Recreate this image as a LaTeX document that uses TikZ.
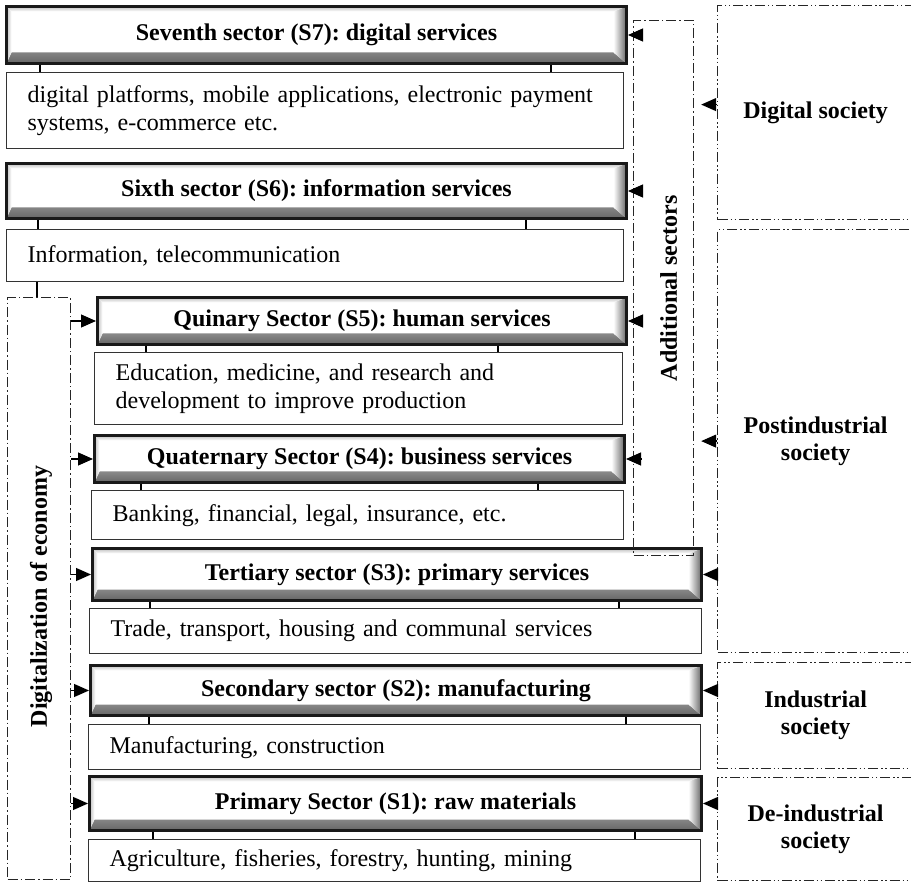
\documentclass[tikz,border=0pt]{standalone}
\usepackage{fontspec}
\setmainfont{Liberation Serif}
\usetikzlibrary{arrows.meta,positioning,calc}
\frenchspacing

\begin{document}
\begin{tikzpicture}[
  x=1pt,y=-1pt,
  hdr/.style={draw=black!90,line width=3pt,fill=white,anchor=north west,
    font=\bfseries\fontsize{24}{27}\selectfont,
    path picture={
      \shade[top color=white,bottom color=black!60]
        (path picture bounding box.south west) -- (path picture bounding box.south east)
        -- ([xshift=-13pt,yshift=11pt]path picture bounding box.south east)
        -- ([xshift=5pt,yshift=11pt]path picture bounding box.south west) -- cycle;
      \shade[left color=white,right color=black!60]
        (path picture bounding box.south east) -- (path picture bounding box.north east)
        -- ([xshift=-13pt,yshift=-5pt]path picture bounding box.north east)
        -- ([xshift=-13pt,yshift=11pt]path picture bounding box.south east) -- cycle;
      \shade[top color=black!25,bottom color=white]
        (path picture bounding box.north west) -- (path picture bounding box.north east)
        -- ([xshift=-13pt,yshift=-5pt]path picture bounding box.north east)
        -- ([xshift=5pt,yshift=-5pt]path picture bounding box.north west) -- cycle;
      \shade[left color=black!25,right color=white]
        (path picture bounding box.north west) -- ([xshift=5pt,yshift=-5pt]path picture bounding box.north west)
        -- ([xshift=5pt,yshift=11pt]path picture bounding box.south west)
        -- (path picture bounding box.south west) -- cycle;
    }},
  desc/.style={draw=black!80,line width=1.3pt,anchor=north west,align=left,
    inner xsep=21pt,font=\fontsize{24}{27.5}\selectfont},
  side/.style={draw=black!85,line width=1.2pt,anchor=north west,inner sep=0pt,
    dash pattern=on 10pt off 3pt on 1.5pt off 3pt},
  soc/.style={side,align=center,font=\bfseries\fontsize{24}{27}\selectfont,
    dash pattern=on 10pt off 3pt on 1.5pt off 2.5pt on 1.5pt off 3pt},
  vlabel/.style={rotate=90,font=\bfseries\fontsize{24}{27}\selectfont},
  link/.style={line width=1.5pt},
  arr/.style={-{Triangle[length=15pt,width=13pt]},line width=1.2pt}
]
\useasboundingbox (0,0) rectangle (911,882);
\clip (0,0) rectangle (911,882);

\node[hdr,minimum width=620pt,minimum height=57pt] (h7) at (5,5) {Seventh sector (S7): digital services};
\node[desc,text width=575pt,minimum height=76pt] (d7) at (6,72) {digital platforms, mobile applications, electronic payment\\systems, e-commerce etc.};
\node[hdr,minimum width=620pt,minimum height=55pt] (h6) at (5,162) {Sixth sector (S6): information services};
\node[desc,text width=575pt,minimum height=52pt] (d6) at (6,229) {Information, telecommunication};
\node[hdr,minimum width=529pt,minimum height=47pt] (h5) at (96,296) {Quinary Sector (S5): human services};
\node[desc,text width=486pt,minimum height=72pt] (d5) at (94,352) {Education, medicine, and research and\\development to improve production};
\node[hdr,minimum width=530pt,minimum height=47pt] (h4) at (93,434) {Quaternary Sector (S4): business services};
\node[desc,text width=490pt,minimum height=49pt] (d4) at (91,490) {Banking, financial, legal, insurance, etc.};
\node[hdr,minimum width=609pt,minimum height=52pt] (h3) at (91,547) {Tertiary sector (S3): primary services};
\node[desc,text width=570pt,minimum height=45pt] (d3) at (89,608) {Trade, transport, housing and communal services};
\node[hdr,minimum width=611pt,minimum height=50pt] (h2) at (89,664) {Secondary sector (S2): manufacturing};
\node[desc,text width=570pt,minimum height=45pt] (d2) at (88,724) {Manufacturing, construction};
\node[hdr,minimum width=612pt,minimum height=54pt] (h1) at (88,775) {Primary Sector (S1): raw materials};
\node[desc,text width=570pt,minimum height=42pt] (d1) at (88,839) {Agriculture, fisheries, forestry, hunting, mining};

\node[side,minimum width=63pt,minimum height=582pt] (dig) at (7,297) {};
\node[vlabel] (diglbl) at ([xshift=2pt,yshift=-8pt]dig.center) {Digitalization of economy};
\node[side,minimum width=60pt,minimum height=535pt] (add) at (633,20) {};
\node[vlabel] (addlbl) at ([xshift=5pt]add.center) {Additional sectors};

\node[soc,minimum width=196pt,minimum height=214pt] (sdig) at (717,5) {Digital society};
\node[soc,minimum width=196pt,minimum height=423pt] (spost) at (717,229) {Postindustrial\\society};
\node[soc,minimum width=196pt,minimum height=106pt] (sind) at (717,662) {Industrial\\society};
\node[soc,minimum width=196pt,minimum height=103pt] (sdeind) at (717,777) {De-industrial\\society};

\foreach \s/\a/\b in {7/35/77,6/33/102,5/50/130,4/48/88,3/59/84,2/60/77,1/65/68} {
  \draw[link] ([xshift=\a pt]h\s.south west) -- ([xshift=\a pt]h\s.south west |- d\s.north);
  \draw[link] ([xshift=-\b pt]h\s.south east) -- ([xshift=-\b pt]h\s.south east |- d\s.north);
}
\draw[link] ([xshift=31pt]d6.south west) -- ([xshift=31pt]d6.south west |- dig.north);

\foreach \s in {5,4,3,2,1}
  \draw[arr] (h\s.west -| dig.east) -- (h\s.west);
\foreach \s in {7,6,5,4}
  \draw[arr] ([xshift=8pt]h\s.east -| add.west) -- (h\s.east);
\draw[arr] ([yshift=8pt]sdig.west) -- ([yshift=8pt,xshift=7pt]sdig.west -| add.east);
\draw[arr] (spost.west) -- ([xshift=7pt]spost.west -| add.east);
\foreach \s/\t in {3/spost,2/sind,1/sdeind}
  \draw[arr] (h\s.east -| \t.west) -- (h\s.east);
\end{tikzpicture}
\end{document}
